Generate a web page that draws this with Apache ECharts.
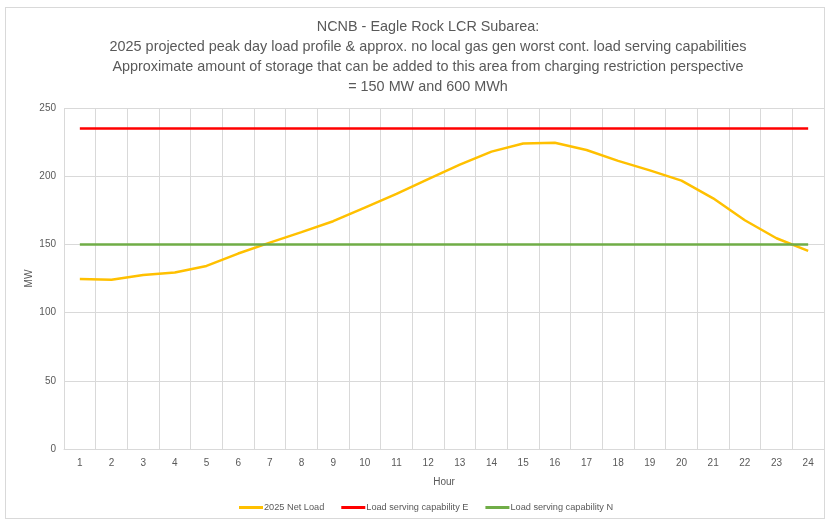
<!DOCTYPE html>
<html>
<head>
<meta charset="utf-8">
<script src="https://cdn.jsdelivr.net/npm/echarts@6/dist/echarts.min.js"></script>
<style>
  html, body { margin: 0; padding: 0; background: #fff; }
  #frame { position: absolute; left: 5px; top: 7px; width: 820px; height: 512px; border: 1px solid #d9d9d9; box-sizing: border-box; }
  #chart { width: 827px; height: 523px; }
</style>
</head>
<body>
<div id="frame"></div>
<div id="chart"></div>
<script>
// hours 1..24
const hours = ["1","2","3","4","5","6","7","8","9","10","11","12","13","14","15","16","17","18","19","20","21","22","23","24"]
// 2025 net load (MW)
const netLoad = [124.6, 124.1, 127.6, 129.4, 134.2, 143.3, 151.3, 159.0, 167.0, 177.0, 187.0, 197.8, 208.5, 218.0, 224.0, 224.5, 219.2, 211.2, 204.3, 196.8, 183.8, 167.7, 154.5, 145.2]
const capE = 235
const capN = 150
const titleLines = [
  "NCNB - Eagle Rock LCR Subarea:",
  "2025 projected peak day load profile & approx. no local gas gen worst cont. load serving capabilities",
  "Approximate amount of storage that can be added to this area from charging restriction perspective",
  "= 150 MW and 600 MWh"
]

const font = "'Liberation Sans', Arial, sans-serif"
const chart = echarts.init(document.getElementById("chart"))
chart.setOption({
  backgroundColor: "transparent",
  animation: false,
  textStyle: { fontFamily: font },
  title: {
    text: titleLines.join("\n"),
    left: 423,
    textAlign: "center",
    top: 12,
    textStyle: { color: "#595959", fontSize: 14.4, fontWeight: "normal", lineHeight: 20, fontFamily: font }
  },
  legend: {
    bottom: 6,
    left: 234,
    itemWidth: 24,
    itemHeight: 3,
    itemGap: 17,
    icon: "rect",
    textStyle: { color: "#595959", fontSize: 9.2, padding: [0, 0, 0, -4] },
    data: ["2025 Net Load", "Load serving capability E", "Load serving capability N"]
  },
  grid: { left: 64, right: 3, top: 108, bottom: 74 },
  xAxis: {
    type: "category",
    data: hours,
    boundaryGap: true,
    name: "Hour",
    nameLocation: "middle",
    nameGap: 28,
    nameTextStyle: { color: "#595959", fontSize: 10 },
    axisLine: { lineStyle: { color: "#d9d9d9" } },
    axisTick: { show: false },
    axisLabel: { color: "#595959", fontSize: 10, margin: 9 },
    splitLine: { show: true, lineStyle: { color: "#d9d9d9" } }
  },
  yAxis: {
    type: "value",
    min: 0,
    max: 250,
    interval: 50,
    name: "MW",
    nameLocation: "middle",
    nameGap: 30,
    nameMoveOverlap: false,
    nameTextStyle: { color: "#595959", fontSize: 10 },
    axisLine: { show: false },
    axisTick: { show: false },
    axisLabel: { color: "#595959", fontSize: 10, margin: 8 },
    splitLine: { lineStyle: { color: "#d9d9d9" } }
  },
  series: [
    {
      name: "2025 Net Load",
      type: "line",
      data: netLoad,
      symbol: "none",
      lineStyle: { color: "#FFC000", width: 2.5 },
      itemStyle: { color: "#FFC000" }
    },
    {
      name: "Load serving capability E",
      type: "line",
      data: hours.map(() => capE),
      symbol: "none",
      lineStyle: { color: "#FF0000", width: 2.5 },
      itemStyle: { color: "#FF0000" }
    },
    {
      name: "Load serving capability N",
      type: "line",
      data: hours.map(() => capN),
      symbol: "none",
      lineStyle: { color: "#70AD47", width: 2.5 },
      itemStyle: { color: "#70AD47" }
    }
  ]
})
</script>
</body>
</html>
